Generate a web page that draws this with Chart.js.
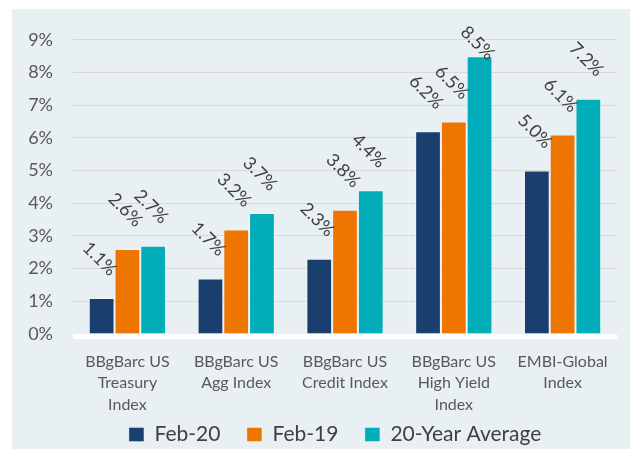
<!DOCTYPE html>
<html>
<head>
<meta charset="utf-8">
<script src="https://cdn.jsdelivr.net/npm/chart.js@4.4.1/dist/chart.umd.min.js"></script>
<style>
  html, body { margin: 0; padding: 0; background: #ffffff; overflow: hidden; }
  #wrap { position: absolute; left: 12px; top: 9px; width: 618px; height: 440px; background: #e8f0f3; overflow: hidden; }
</style>
</head>
<body>
<div id="wrap"><canvas id="myChart" width="618" height="446"></canvas></div>
<script>
// data
const categories = [
    ['BBgBarc US', 'Treasury', 'Index'],
    ['BBgBarc US', 'Agg Index'],
    ['BBgBarc US', 'Credit Index'],
    ['BBgBarc US', 'High Yield', 'Index'],
    ['EMBI-Global', 'Index']
];
const feb20 = [1.1, 1.7, 2.3, 6.2, 5.0];
const feb19 = [2.6, 3.2, 3.8, 6.5, 6.1];
const avg20y = [2.7, 3.7, 4.4, 8.5, 7.2];
const yTicks = [0, 1, 2, 3, 4, 5, 6, 7, 8, 9];

const FONT = 'Lato, "Open Sans", sans-serif';

// rotated value labels above the bars
const barLabels = {
    id: 'barLabels',
    afterDatasetsDraw(chart) {
        const ctx = chart.ctx;
        ctx.save();
        ctx.font = '18px ' + FONT;
        ctx.fillStyle = '#404040';
        ctx.textAlign = 'center';
        ctx.textBaseline = 'middle';
        chart.data.datasets.forEach((ds, i) => {
            const meta = chart.getDatasetMeta(i);
            meta.data.forEach((bar, j) => {
                const txt = ds.data[j].toFixed(1) + '%';
                const w = ctx.measureText(txt).width;
                const box = (w + 12) / Math.SQRT2;
                let cy = bar.y - 21 - box / 2;
                cy = Math.max(cy, 16 + box / 2);
                ctx.save();
                ctx.translate(bar.x - 2, cy);
                ctx.rotate(Math.PI / 4);
                ctx.fillText(txt, 0, 0);
                ctx.restore();
            });
        });
        ctx.restore();
    }
};

// white band under the baseline
const baseBand = {
    id: 'baseBand',
    beforeDatasetsDraw(chart) {
        const a = chart.chartArea;
        chart.ctx.save();
        chart.ctx.fillStyle = '#ffffff';
        chart.ctx.fillRect(a.left, a.bottom, a.right - a.left, 5);
        chart.ctx.restore();
    }
};

const data = {
    labels: categories,
    datasets: [{
        label: 'Feb-20',
        data: feb20,
        backgroundColor: '#1a3f6f',
        borderColor: 'rgba(255,255,255,0.35)',
        borderWidth: 1
    },
    {
        label: 'Feb-19',
        data: feb19,
        backgroundColor: '#ee7600',
        borderColor: 'rgba(255,255,255,0.35)',
        borderWidth: 1
    },
    {
        label: '20-Year Average',
        data: avg20y,
        backgroundColor: '#00adb9',
        borderColor: 'rgba(255,255,255,0.35)',
        borderWidth: 1
    }]
};

// legend items: wider gaps after the first two, blank spacer in front to push the row right
function legendItems(chart) {
    const items = Chart.defaults.plugins.legend.labels.generateLabels(chart);
    items.forEach((it, i) => {
        if (i < items.length - 1) it.text = it.text + '    ';
    });
    items.unshift({
        text: '  ',
        fillStyle: 'rgba(0,0,0,0)',
        strokeStyle: 'rgba(0,0,0,0)',
        lineWidth: 0,
        hidden: false,
        datasetIndex: -1
    });
    return items;
}

const config = {
    type: 'bar',
    data,
    options: {
        responsive: false,
        animation: false,
        categoryPercentage: 0.71,
        barPercentage: 1.0,
        layout: {
            padding: { top: 30, right: 13, left: 0, bottom: 0 }
        },
        scales: {
            x: {
                afterFit(scale) { scale.height = 85; },
                grid: { display: false, drawTicks: false },
                border: { display: false },
                ticks: {
                    color: '#595959',
                    font: { family: FONT, size: 16, lineHeight: 1.34 },
                    padding: 17,
                    maxRotation: 0,
                    autoSkip: false
                }
            },
            y: {
                min: 0,
                max: 9,
                afterFit(scale) { scale.width = 61; },
                afterBuildTicks(scale) { scale.ticks = yTicks.map(v => ({ value: v })); },
                grid: {
                    color: ctx => ctx.tick && ctx.tick.value === 0 ? 'rgba(0,0,0,0)' : '#d9d9d9',
                    drawTicks: false
                },
                border: { display: false },
                ticks: {
                    color: '#595959',
                    font: { family: FONT, size: 18 },
                    padding: 20,
                    callback: v => v + '%'
                }
            }
        },
        plugins: {
            legend: {
                position: 'bottom',
                onClick: null,
                labels: {
                    color: '#404040',
                    font: { family: FONT, size: 21 },
                    boxWidth: 15,
                    boxHeight: 14,
                    padding: 5,
                    generateLabels: legendItems
                }
            },
            tooltip: { enabled: false }
        }
    },
    plugins: [baseBand, barLabels]
};

const myChart = new Chart(
    document.getElementById('myChart'),
    config
);
</script>
</body>
</html>
